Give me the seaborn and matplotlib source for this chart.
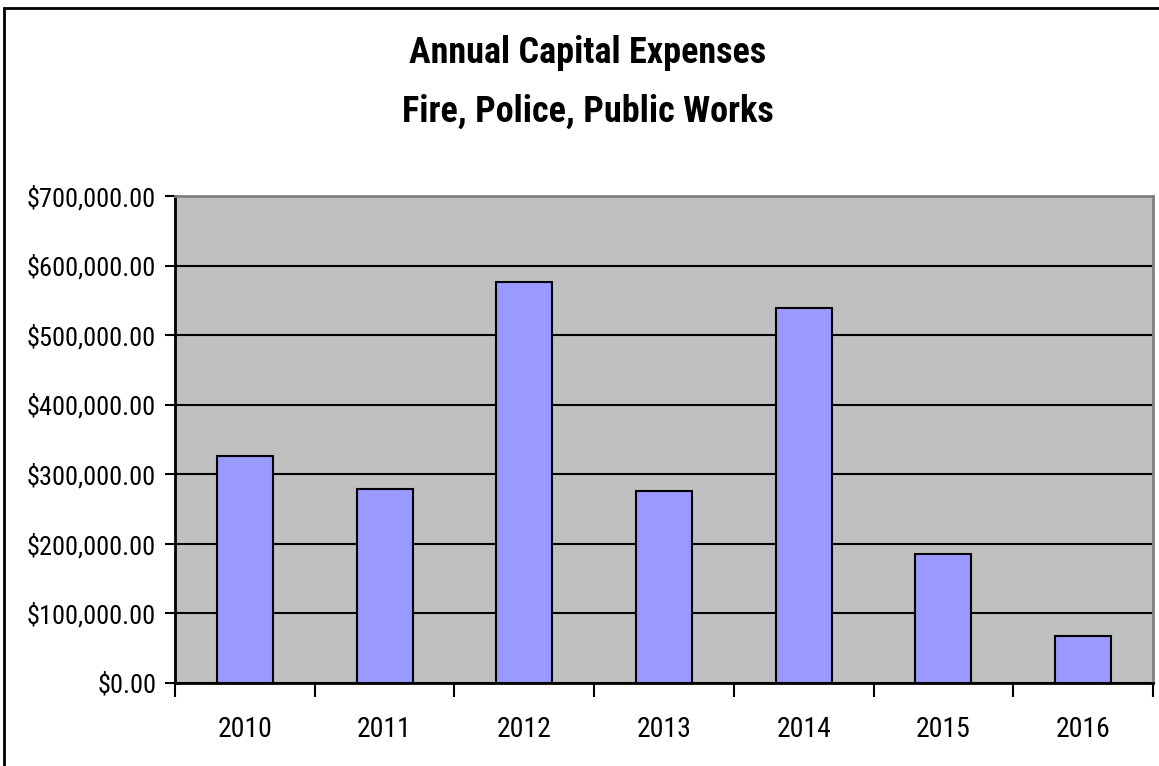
import matplotlib
matplotlib.use("Agg")
import matplotlib.pyplot as plt
import seaborn as sns
import pandas as pd
from matplotlib.patches import Rectangle
from matplotlib.ticker import FuncFormatter, MultipleLocator, FixedLocator
from matplotlib import font_manager

years = ["2010", "2011", "2012", "2013", "2014", "2015", "2016"]
expenses = [326000, 279000, 576000, 276000, 539000, 186000, 67000]
title_lines = ["Annual Capital Expenses", "Fire, Police, Public Works"]

sns.set_theme(style="white")
avail = {f.name for f in font_manager.fontManager.ttflist}
fam = next((n for n in ["Liberation Sans Narrow", "Roboto Condensed", "Archivo Narrow"] if n in avail),
           "Liberation Sans")
plt.rcParams["font.family"] = [fam, "DejaVu Sans"]
plt.rcParams["text.color"] = "black"
plt.rcParams["xtick.color"] = "black"
plt.rcParams["ytick.color"] = "black"

W, H = 1159, 766
fig = plt.figure(figsize=(W / 100, H / 100), dpi=100)
fig.patch.set_facecolor("white")

left, right, top, bottom = 175, 1153, 196, 683
ax = fig.add_axes([left / W, (H - bottom) / H, (right - left) / W, (bottom - top) / H])
ax.set_facecolor("#C0C0C0")

df = pd.DataFrame({"year": years, "value": expenses})
sns.barplot(data=df, x="year", y="value", color="#9999FF", saturation=1,
            edgecolor="black", linewidth=1.5, width=0.4, ax=ax, zorder=3)

ax.set_ylim(0, 700000)
ax.set_xlim(-0.5, len(years) - 0.5)
ax.yaxis.set_major_locator(MultipleLocator(100000))
ax.yaxis.set_major_formatter(FuncFormatter(lambda v, p: f"${v:,.2f}"))
ax.grid(axis="y", color="black", linewidth=1.5, zorder=1)
ax.set_axisbelow(True)

ax.xaxis.set_minor_locator(FixedLocator([i - 0.5 for i in range(len(years) + 1)]))
ax.tick_params(axis="x", which="major", length=0, pad=24, labelsize=20, labelcolor="black")
ax.tick_params(axis="x", which="minor", length=10, width=1.5, color="black", direction="out", bottom=True)
ax.tick_params(axis="y", which="major", length=7, width=1.5, color="black", direction="out",
               left=True, pad=6.5, labelsize=19, labelcolor="black")
ax.set_xlabel("")
ax.set_ylabel("")

for s in ["left", "bottom"]:
    ax.spines[s].set_color("black")
    ax.spines[s].set_linewidth(2)
for s in ["top", "right"]:
    ax.spines[s].set_color("#808080")
    ax.spines[s].set_linewidth(2)

fig.text(588 / W, 1 - 63 / H, title_lines[0], ha="center", va="baseline", fontsize=26,
         fontweight="bold", color="black")
fig.text(588 / W, 1 - 122 / H, title_lines[1], ha="center", va="baseline", fontsize=26,
         fontweight="bold", color="black")

fig.add_artist(Rectangle((4 / W, -0.1), 1.2, 1.1 - 8 / H, transform=fig.transFigure,
                         fill=False, edgecolor="black", linewidth=2))

fig.savefig("out.png", dpi=100)
